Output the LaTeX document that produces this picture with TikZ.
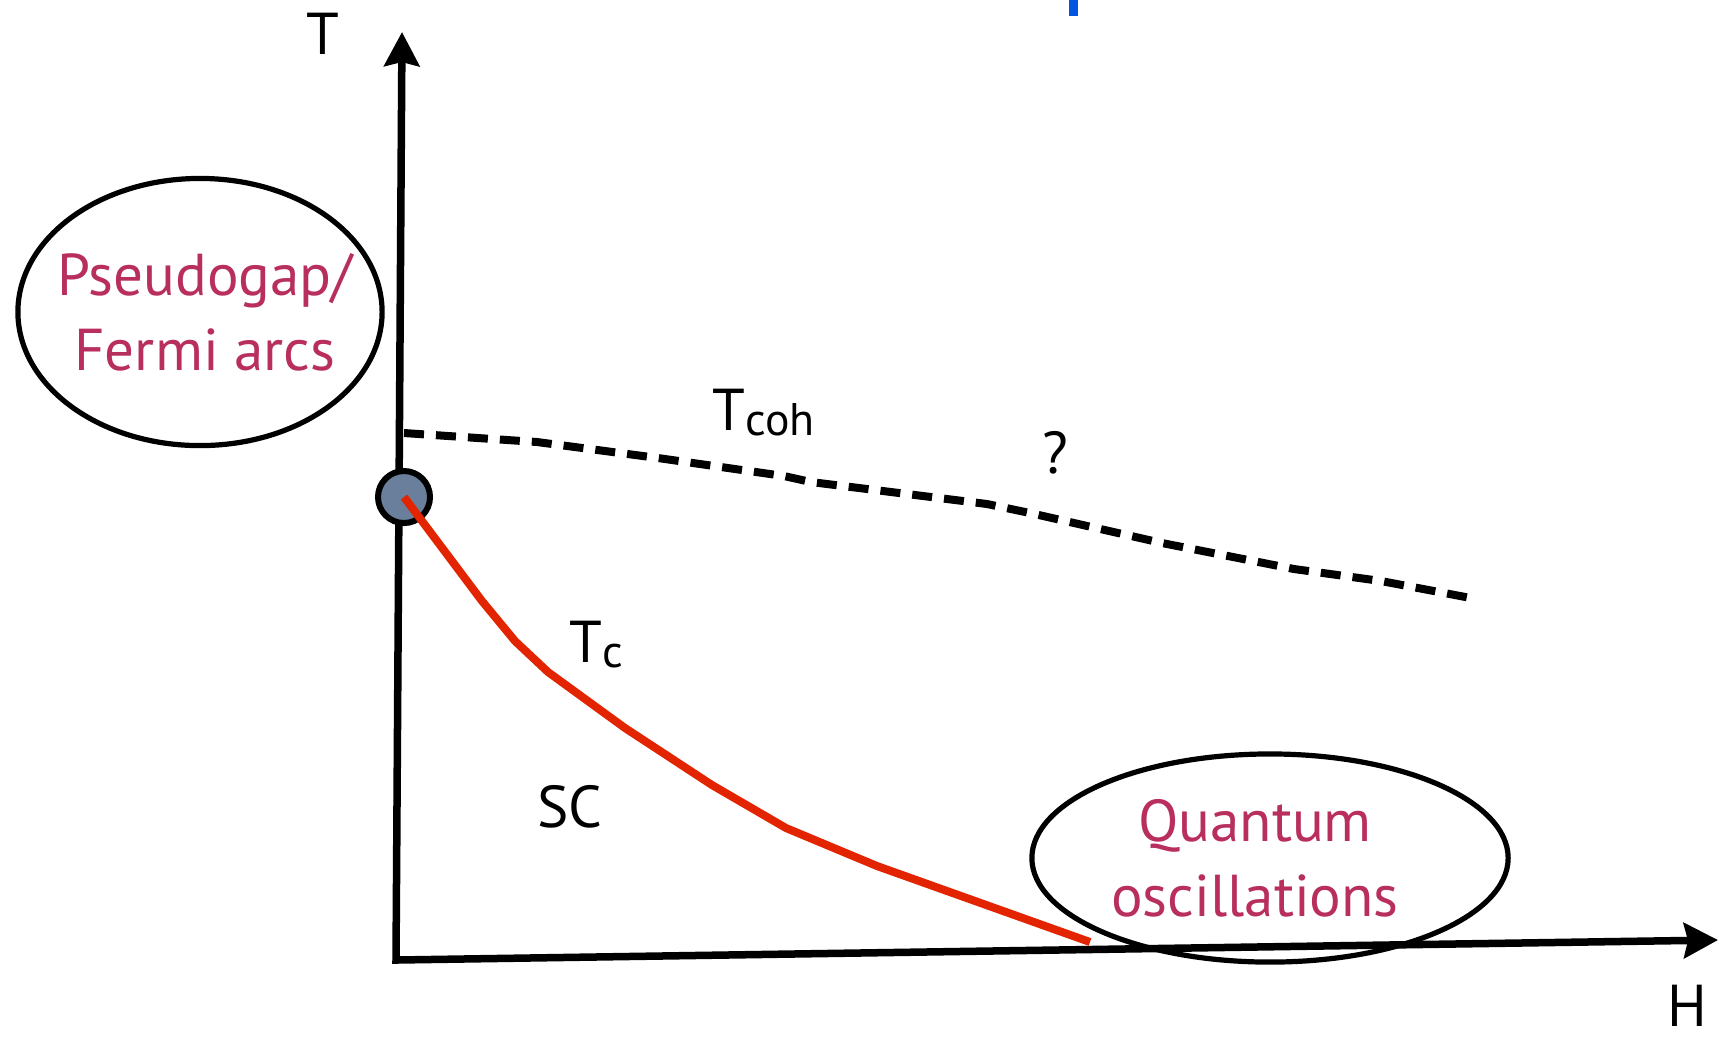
\documentclass[tikz,border=0pt]{standalone}
\usepackage{fontspec}
\setmainfont{PT Sans}
\usetikzlibrary{arrows.meta,shapes.geometric}

\definecolor{phasetext}{RGB}{184,46,94}
\definecolor{dotfill}{RGB}{106,127,155}
\definecolor{tcred}{RGB}{226,36,0}
\definecolor{markblue}{RGB}{0,85,225}
\newcommand{\lowsub}[1]{\raisebox{-0.05cm}{\fontsize{13}{14}\selectfont #1}}

\begin{document}
\begin{tikzpicture}[x=0.01cm,y=-0.01cm,
        every node/.style={font=\fontsize{16.8}{21.3}\selectfont,inner sep=0pt},
        axis/.style={line width=0.075cm,line join=miter,
            arrows={Stealth[length=0.34cm,width=0.35cm,inset=0.04cm]-Stealth[length=0.34cm,width=0.35cm,inset=0.04cm]}},
        bubble/.style={draw,ellipse,line width=0.052cm,inner sep=0pt},
        phase/.style={text=phasetext,align=center},
        tcline/.style={tcred,line width=0.08cm},
        cohline/.style={line width=0.08cm,dash pattern=on 0.2cm off 0.12cm}]
    \useasboundingbox (0,0) rectangle (1719,1041);

    % axes
    \coordinate (O) at (396,960);
    \coordinate (Ttip) at (402,32);
    \coordinate (Htip) at (1718,940);
    \draw[axis] (Ttip) -- (O) -- (Htip);
    \node[anchor=base] (Tlab) at (323,54) {T};
    \node[anchor=base east] (Hlab) at (1708,1026) {H};

    % blue mark at the top
    \fill[markblue] (1069,0) rectangle (1078,16);

    % regions
    \node[bubble,minimum width=3.64cm,minimum height=2.67cm] (pg) at (200,312) {};
    \node[phase] (pgtext) at ([xshift=0.05cm]pg.center) {Pseudogap/\\Fermi arcs};
    \node[bubble,minimum width=4.76cm,minimum height=2.08cm] (qo) at (1270,858) {};
    \node[phase] (qotext) at ([xshift=-0.15cm]qo.center) {Quantum\\oscillations};

    % critical point and T_c line
    \node[circle,draw,fill=dotfill,line width=0.06cm,minimum size=0.52cm] (qcp) at (404,497) {};
    \coordinate (tcend) at (1090,942);
    \draw[tcline] (qcp.center) -- (482,601) -- (515,641) -- (548,672) -- (625,728)
        -- (712,785) -- (786,828) -- (877,866) -- (tcend);

    % coherence line
    \coordinate (cohstart) at (404,433);
    \coordinate (cohend) at (1476,599);
    \draw[cohline] (cohstart) -- (537,442) -- (658,458) -- (784,476) -- (811,482)
        -- (899,493) -- (987,504) -- (1030,513) -- (1162,543) -- (1294,569)
        -- (1381,581) -- (cohend);

    % labels
    \node[anchor=base west] (tcoh) at (712,430) {T\lowsub{coh}};
    \node[anchor=base] (qmark) at (1055,473) {?};
    \node[anchor=base west] (tc) at (569,662) {T\lowsub{c}};
    \node[anchor=base] (sc) at (570,827) {SC};
\end{tikzpicture}
\end{document}
